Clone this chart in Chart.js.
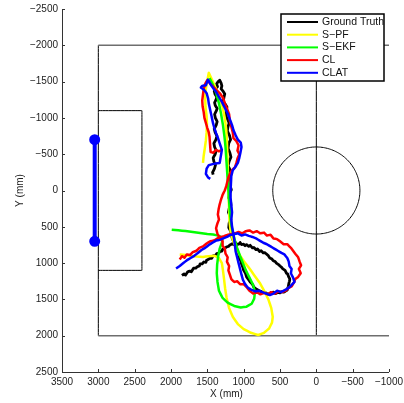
<!DOCTYPE html>
<html>
<head>
<meta charset="utf-8">
<script src="https://cdn.jsdelivr.net/npm/chart.js@4.4.0/dist/chart.umd.min.js"></script>
<style>
  html, body { margin: 0; padding: 0; background: #fff; }
  #wrap { width: 404px; height: 403px; }
</style>
</head>
<body>
<div id="wrap"><canvas id="chart"></canvas></div>
<script>
// series names / colours
var seriesNames = ['Ground Truth', 'S\u2212PF', 'S\u2212EKF', 'CL', 'CLAT'];
var seriesColors = ['#000000', '#ffff00', '#00ff00', '#ff0000', '#0000ff'];

// trajectories (mm)
var gtX = [1850,1820,1800,1770,1740,1720,1690,1660,1640,1610,1600,1570,1550,1520,1510,1480,1460,1440,1420,1390,1370,1340,1330,1300,1290,1260,1240,1210,1190,
           1160,1140,1110,1090,1060,1050,1030,1000,980,960,930,910,880,860,830,810,780,760,730,710,680,660,640,610,590,570,550,520,500,480,460,430,410,395,380,365,370,380,385,395,400,430,450,480,500,530,560,590,620,650,680,710,730,760,790,830,860,880,910,930,960,975,1000,1010,1030,1040,1060,1070,1090,1105,1120,1140,1160,1170,1180,
           1205,1200,1175,1190,1210,1200,1175,1180,1205,1195,1170,1185,1210,1200,1175,1185,1215,1200,1175,1190,1215,1205,1180,1195,1225,1215,1200,1225,1250,1240,1230,1255,1280,1270,1260,1285,1310,1300,1310,1330,1350,
           1372,1360,1390,1405,1395,1370,1380,1400,1390,1365,1375,1400,1390,1365,1378,1405,1392,1368,1382,1410,1400,1378,1392,1420,1410,1388,1402,1428,1420];
var gtY = [1170,1150,1165,1120,1110,1120,1070,1070,1050,1040,1010,1010,985,990,960,945,930,935,900,895,870,860,840,835,810,800,780,770,750,
           735,745,720,745,735,715,745,740,760,745,770,755,790,785,815,805,840,830,860,855,880,900,930,945,970,975,1000,1020,1040,1055,1080,1100,1140,1150,1190,1220,1250,1290,1320,1350,1370,1390,1400,1395,1410,1405,1420,1400,1405,1425,1420,1400,1410,1390,1380,1355,1330,1290,1260,1230,1190,1140,1100,1060,1010,970,930,880,830,790,740,700,650,600,560,
           510,450,400,350,300,250,200,150,100,40,-10,-60,-110,-170,-220,-280,-340,-400,-460,-520,-580,-650,-700,-760,-820,-880,-930,-990,-1040,-1100,-1150,-1190,-1230,-1290,-1330,-1370,-1400,-1440,-1480,-1520,-1500,
           -1470,-1430,-1400,-1370,-1330,-1290,-1250,-1210,-1170,-1130,-1100,-1050,-1000,-950,-900,-850,-800,-750,-700,-650,-600,-550,-500,-450,-400,-350,-300,-250,-220];

var spfX = [1880,1800,1720,1640,1560,1480,1400,1340,1300,1285,1270,1255,1235,1200,1150,1080,1000,900,800,720,650,610,600,620,660,720,780,860,930,1000,1060,1110,1150,1180,1195,1200,1205,1210,1215,1220,1225,1230,1240,1260,1290,1330,1380,1430,1480,1500,1520,1530,1525,1510,1505,1510,1520,1535,1550,1560];
var spfY = [880,890,900,910,915,905,900,930,1000,1100,1220,1350,1480,1620,1740,1840,1910,1960,1990,1960,1900,1820,1740,1620,1500,1380,1270,1160,1060,970,880,780,680,560,420,280,120,-40,-200,-360,-520,-680,-840,-1000,-1150,-1280,-1400,-1510,-1620,-1520,-1400,-1280,-1150,-1030,-920,-800,-690,-580,-480,-380];

var sekfX = [1990,1900,1800,1700,1600,1500,1420,1340,1290,1300,1330,1350,1365,1370,1360,1340,1290,1220,1130,1040,960,890,855,845,870,920,970,1010,1050,1090,1120,1150,1175,1190,1200,1210,1220,1230,1240,1250,1265,1285,1310,1340,1380,1430,1470];
var sekfY = [540,548,558,572,585,598,605,625,660,720,800,900,1020,1140,1260,1380,1480,1545,1590,1612,1600,1560,1490,1400,1300,1200,1100,1000,900,790,690,580,440,300,150,0,-150,-300,-450,-600,-750,-900,-1050,-1200,-1350,-1470,-1550];

var clX = [1880,1850,1815,1780,1740,1700,1650,1610,1560,1510,1460,1410,1360,1320,1270,1220,1170,1120,1070,1020,970,920,870,820,770,720,680,630,590,540,500,450,400,350,320,290,250,230,210,240,215,250,290,310,340,380,420,470,520,570,620,670,720,770,820,870,920,960,1000,1050,1090,1130,1170,1190,1210,1200,1230,1220,1250,1260,1290,1290,1330,1360,1380,1360,1340,1355,1345,1330,1310,1290,1260,1240,1225,1210,1190,1160,1120,1100,1085,1060,1085,1070,1100,1140,1150,1170,1190,1200,1230,1260,1280,1320,1370,1410,1460,1500,1530,1550,1560,1570,1565,1550,1540,1520,1500,1480,1470,1465,1460,1455,1420,1380,1340,1300];
var clY = [950,905,925,880,890,850,830,790,770,730,700,690,660,640,630,610,600,590,570,590,560,550,580,560,590,580,620,610,660,670,700,740,740,790,830,870,920,980,1030,1080,1140,1190,1220,1270,1320,1340,1380,1400,1390,1420,1400,1430,1410,1430,1400,1420,1380,1330,1290,1290,1250,1260,1220,1160,1100,1040,980,920,870,800,760,700,650,600,520,450,400,330,260,190,120,60,0,-60,-120,-180,-230,-280,-320,-380,-440,-500,-550,-620,-680,-720,-800,-880,-960,-1050,-1130,-1200,-1270,-1330,-1380,-1420,-1470,-1520,-1470,-1400,-1320,-1240,-1160,-1080,-1000,-930,-860,-800,-740,-670,-600,-530,-520,-560,-540,-560];

var clatX = [1930,1880,1830,1780,1730,1680,1630,1580,1530,1480,1430,1380,1330,1280,1230,1180,1130,1080,1030,980,930,880,830,780,730,680,630,580,530,480,440,400,380,370,340,350,320,300,340,380,430,490,540,590,640,690,740,790,840,890,940,980,1010,1030,1050,1070,1090,1110,1120,1130,1140,1160,1170,1160,1170,1180,1180,1175,1170,1150,1110,1080,1060,1045,1030,1040,1080,1110,1140,1160,1190,1220,1260,1300,1340,1380,1420,1460,1490,1520,1570,1590,1540,1510,1490,1480,1465,1450,1435,1420,1400,1380,1360,1340,1320,1300,1310,1320,1330,1400,1480,1510,1520,1490,1460];
var clatY = [1075,1040,1000,960,930,900,860,820,790,750,720,690,680,660,640,610,600,590,620,605,625,640,660,690,720,740,770,800,830,860,880,930,980,1040,1080,1140,1200,1260,1300,1340,1370,1400,1380,1420,1440,1420,1400,1380,1390,1370,1340,1290,1230,1160,1080,1000,920,840,760,680,600,500,400,300,200,100,0,-100,-200,-280,-330,-380,-450,-520,-600,-660,-700,-760,-830,-900,-980,-1060,-1140,-1220,-1290,-1360,-1410,-1470,-1530,-1450,-1440,-1420,-1380,-1340,-1270,-1200,-1130,-1060,-990,-920,-850,-790,-740,-680,-620,-560,-500,-440,-380,-370,-350,-300,-230,-180,-160];

// field markings (mm)
var fieldTopX = [3000, -1000], fieldTopY = [-2000, -2000];
var fieldBottomX = [3000, -1000], fieldBottomY = [2000, 2000];
var fieldLeftX = [3000, 3000], fieldLeftY = [-2000, 2000];
var centerLineX = [0, 0], centerLineY = [-2000, 2000];
var penaltyX = [3000, 2400, 2400, 3000], penaltyY = [-1100, -1100, 1100, 1100];
var goalX = [3050, 3050], goalY = [-700, 700];
var circleCenter = [0, 0], circleRadius = 600;

// axis ticks
var xMin = -1000, xMax = 3500, yMin = -2500, yMax = 2500, tickStep = 500;

function toPoints(xs, ys) {
    return xs.map(function (x, i) { return { x: x, y: ys[i] }; });
}

function circlePoints(c, r) {
    var pts = [];
    for (var a = 90; a < 450; a += 5) {
        var t = a * Math.PI / 180;
        pts.push({ x: c[0] + r * Math.cos(t), y: c[1] + r * Math.sin(t) });
    }
    pts.push({ x: pts[0].x, y: pts[0].y });
    return pts;
}

function fmt(v) {
    return v < 0 ? '\u2212' + Math.abs(v) : String(v);
}

function fieldSet(data, color, width) {
    return { data: data, showLine: true, borderColor: color, backgroundColor: color,
             borderWidth: width, pointRadius: 0, order: 20, borderJoinStyle: 'round' };
}

function trackSet(i, xs, ys, width) {
    return { label: seriesNames[i], data: toPoints(xs, ys), showLine: true,
             borderColor: seriesColors[i], backgroundColor: seriesColors[i],
             borderWidth: width, pointRadius: 0, order: 10 - i, borderJoinStyle: 'round' };
}

var FONT = '"Liberation Sans", Arial, Helvetica, sans-serif';

// axes with inward ticks, titles, legend box
var decorPlugin = {
    id: 'decor',
    beforeDatasetsDraw: function (chart) {
        var ctx = chart.ctx, a = chart.chartArea;
        var xs = chart.scales.x, ys = chart.scales.y;
        ctx.save();
        ctx.strokeStyle = '#333';
        ctx.lineWidth = 1;
        ctx.beginPath();
        ctx.moveTo(a.left + 0.5, a.top);
        ctx.lineTo(a.left + 0.5, a.bottom + 0.5);
        ctx.lineTo(a.right, a.bottom + 0.5);
        for (var v = xMin; v <= xMax; v += tickStep) {
            var px = Math.round(xs.getPixelForValue(v)) + 0.5;
            ctx.moveTo(px, a.bottom);
            ctx.lineTo(px, a.bottom - 3);
        }
        for (var w = yMin; w <= yMax; w += tickStep) {
            var py = Math.round(ys.getPixelForValue(w)) + 0.5;
            ctx.moveTo(a.left, py);
            ctx.lineTo(a.left + 3, py);
        }
        ctx.stroke();
        ctx.fillStyle = '#222';
        ctx.font = '10px ' + FONT;
        ctx.textAlign = 'center';
        ctx.textBaseline = 'middle';
        ctx.fillText('X (mm)', (a.left + a.right) / 2 + 1, 394);
        ctx.translate(20, (a.top + a.bottom) / 2);
        ctx.rotate(-Math.PI / 2);
        ctx.fillText('Y (mm)', 0, 0);
        ctx.restore();
    },
    afterDatasetsDraw: function (chart) {
        var ctx = chart.ctx, a = chart.chartArea;
        var bx = a.right - 108, by = a.top + 5, bw = 103, bh = 67;
        ctx.save();
        ctx.fillStyle = '#fff';
        ctx.fillRect(bx, by, bw, bh);
        ctx.strokeStyle = '#000';
        ctx.lineWidth = 1.5;
        ctx.strokeRect(bx, by, bw, bh);
        ctx.font = '10.5px ' + FONT;
        ctx.textAlign = 'left';
        ctx.textBaseline = 'middle';
        for (var i = 0; i < seriesNames.length; i++) {
            var ry = by + 8 + i * 12.7;
            ctx.strokeStyle = seriesColors[i];
            ctx.lineWidth = 2;
            ctx.beginPath();
            ctx.moveTo(bx + 6, ry);
            ctx.lineTo(bx + 37, ry);
            ctx.stroke();
            ctx.fillStyle = '#111';
            ctx.fillText(seriesNames[i], bx + 41, ry);
        }
        ctx.restore();
    }
};

var datasets = [
    trackSet(0, gtX, gtY, 2.8),
    trackSet(1, spfX, spfY, 2.5),
    trackSet(2, sekfX, sekfY, 2.5),
    trackSet(3, clX, clY, 2.5),
    trackSet(4, clatX, clatY, 2.5),
    fieldSet(toPoints(fieldTopX, fieldTopY), '#6e6e6e', 1.5),
    fieldSet(toPoints(fieldBottomX, fieldBottomY), '#6e6e6e', 1.5),
    fieldSet(toPoints(fieldLeftX, fieldLeftY), '#000', 1),
    fieldSet(toPoints(centerLineX, centerLineY), '#000', 1),
    fieldSet(toPoints(penaltyX, penaltyY), '#000', 1),
    fieldSet(circlePoints(circleCenter, circleRadius), '#000', 1),
    { data: toPoints(goalX, goalY), showLine: true, borderColor: '#0000ff',
      backgroundColor: '#0000ff', borderWidth: 4, pointRadius: 3.5, order: 5 }
];

new Chart(document.getElementById('chart'), {
    type: 'scatter',
    data: { datasets: datasets },
    plugins: [decorPlugin],
    options: {
        responsive: true,
        maintainAspectRatio: false,
        animation: false,
        events: [],
        layout: { padding: { top: 9, right: 15, bottom: 0, left: 0 } },
        // tiny tension keeps Chart.js off its fast path, which merges points per pixel column
        elements: { line: { tension: 0.0001 } },
        plugins: { legend: { display: false }, tooltip: { enabled: false } },
        scales: {
            x: {
                type: 'linear', min: xMin, max: xMax, reverse: true,
                grid: { display: false, drawTicks: false },
                border: { display: false },
                ticks: { stepSize: tickStep, autoSkip: false, maxRotation: 0, padding: 4,
                         color: '#222', font: { family: FONT, size: 10 }, callback: fmt },
                afterFit: function (s) { s.height = 31; s.paddingLeft = 0; s.paddingRight = 0; }
            },
            y: {
                type: 'linear', min: yMin, max: yMax, reverse: true,
                grid: { display: false, drawTicks: false },
                border: { display: false },
                ticks: { stepSize: tickStep, autoSkip: false, padding: 4,
                         color: '#222', font: { family: FONT, size: 10 }, callback: fmt },
                afterFit: function (s) { s.width = 62; s.paddingTop = 0; s.paddingBottom = 0; }
            }
        }
    }
});
</script>
</body>
</html>
